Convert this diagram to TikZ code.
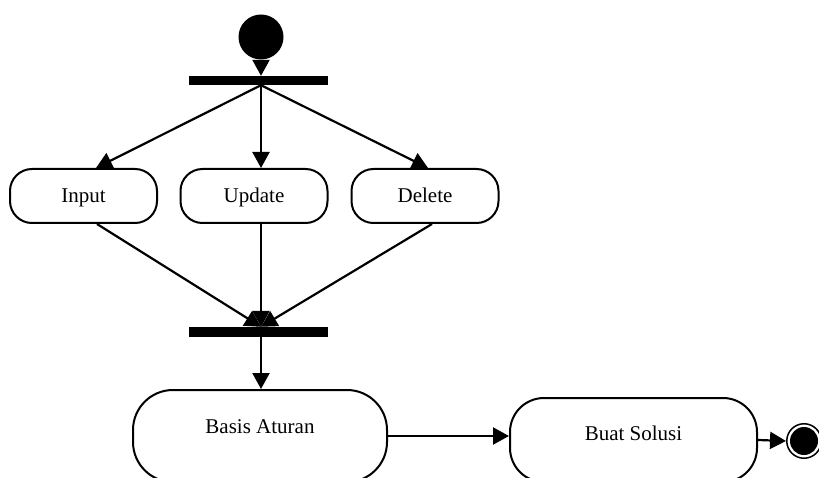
\documentclass[tikz,border=0pt]{standalone}
\usepackage{fontspec}
\setmainfont{Liberation Serif}
\usetikzlibrary{arrows.meta}
\begin{document}
\begin{tikzpicture}[x=1pt, y=-1pt,
  flow/.style={line width=2.2pt, -{Triangle[length=16pt,width=17pt]}},
  action/.style={draw, line width=2pt, rectangle, inner sep=0pt,
    font=\fontsize{21}{25}\selectfont, text height=14pt, text depth=0pt},
  small/.style={action, minimum width=147pt, minimum height=54pt, rounded corners=22pt},
  bar/.style={fill=black, inner sep=0pt, minimum width=139pt, minimum height=9pt},
]
\useasboundingbox (0,0) rectangle (819,478);
\clip (0,0) rectangle (819,478);

% start, fork and join
\node[circle, fill=black, inner sep=0pt, minimum size=45pt] (start) at (261,37) {};
\node[bar] (forkbar) at (258.5,80.5) {};
\node[bar, minimum height=10pt] (joinbar) at (258.5,332) {};
\coordinate (forkpt) at ([xshift=2.5pt]forkbar.south);
\coordinate (joinpt) at ([xshift=2.5pt]joinbar.north);
\coordinate (joinout) at ([xshift=2.5pt]joinbar.south);

% parallel actions
\node[small] (input)  at (83.5,196) {Input};
\node[small] (update) at (254,196)  {Update};
\node[small] (delete) at (425,196)  {Delete};

% sequential actions
\node[action, minimum width=254pt, minimum height=92pt, rounded corners=40pt,
      text depth=20pt] (basis) at (260,436) {Basis Aturan};
\node[action, minimum width=247pt, minimum height=84pt, rounded corners=34pt,
      text depth=14pt] (buat) at (633.5,440) {Buat Solusi};

% final state
\node[circle, draw, line width=1.5pt, inner sep=0pt, minimum size=34.5pt] (final) at (804,441) {};
\node[circle, fill=black, inner sep=0pt, minimum size=28pt] (finaldot) at (final.center) {};

% connectors
\draw[flow] (start.south) -- (start.south |- forkbar.north);
\draw[flow] (forkpt) -- ([xshift=12.5pt]input.north);
\draw[flow] (forkpt) -- ([xshift=7pt]update.north);
\draw[flow] (forkpt) -- ([xshift=3pt]delete.north);
\draw[flow] ([xshift=13.5pt]input.south) -- (joinpt);
\draw[flow] ([xshift=7pt]update.south) -- (joinpt);
\draw[flow] ([xshift=7pt]delete.south) -- (joinpt);
\draw[flow] (joinout) -- (joinout |- basis.north);
\draw[flow] (basis.east) -- (basis.east -| buat.west);
\draw[flow] (buat.east) -- (final.west);
\end{tikzpicture}
\end{document}
